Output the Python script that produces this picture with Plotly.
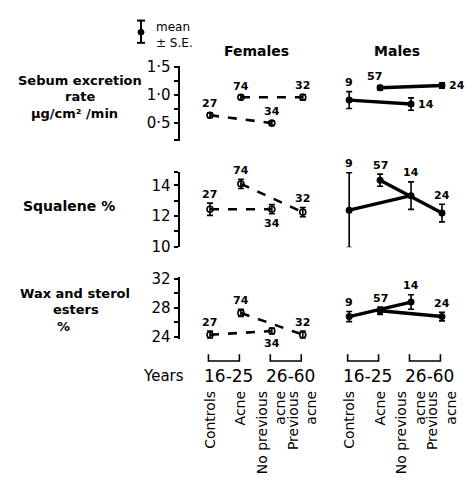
import plotly.graph_objects as go

# ---------------- data ----------------
categories = ["Controls", "Acne", "No previous<br>acne", "Previous<br>acne"]
female_x = [0, 1, 2, 3]
male_x = [4.5, 5.5, 6.5, 7.5]
female_n = [27, 74, 34, 32]
male_n = [9, 57, 14, 24]

sebum_f = [0.64, 0.96, 0.50, 0.96]
sebum_f_se = [0.04, 0.04, 0.04, 0.05]
sebum_m = [0.91, 1.13, 0.84, 1.17]
sebum_m_se = [0.15, 0.04, 0.11, 0.05]

squalene_f = [12.44, 14.1, 12.44, 12.25]
squalene_f_se = [0.4, 0.3, 0.3, 0.3]
squalene_m = [12.38, 14.34, 13.33, 12.19]
squalene_m_se = [2.45, 0.4, 0.9, 0.58]

wax_f = [24.3, 27.3, 24.8, 24.3]
wax_f_se = [0.5, 0.5, 0.4, 0.5]
wax_m = [26.8, 27.6, 28.8, 26.8]
wax_m_se = [0.7, 0.5, 1.0, 0.6]

year_groups = ["16-25", "26-60"]

# label placement for n-values
pos = {
    ("y", "f"): ["up", "up", "up", "up"],
    ("y", "m"): ["up", "upleft", "right", "right"],
    ("y2", "f"): ["up", "up", "down", "up"],
    ("y2", "m"): ["up", "up", "up", "up"],
    ("y3", "f"): ["up", "up", "down", "up"],
    ("y3", "m"): ["up", "up", "up", "up"],
}

W, H = 473, 488
FONT = "DejaVu Sans"


def px(x):
    return x / W


def py(y):
    return 1 - y / H


fig = go.Figure()

rows = [
    ("y", sebum_f, sebum_f_se, sebum_m, sebum_m_se),
    ("y2", squalene_f, squalene_f_se, squalene_m, squalene_m_se),
    ("y3", wax_f, wax_f_se, wax_m, wax_m_se),
]

annotations = []
for yref, vf, sf, vm, sm in rows:
    for sex, xs, v, se, ns in [("f", female_x, vf, sf, female_n), ("m", male_x, vm, sm, male_n)]:
        for i, j in [(0, 2), (1, 3)]:
            if sex == "f":
                line = dict(color="black", width=2.6, dash="dash")
                marker = dict(symbol="circle-open", size=6, color="black", line=dict(width=1.6))
            else:
                line = dict(color="black", width=3.4)
                marker = dict(symbol="circle", size=7, color="black")
            fig.add_trace(go.Scatter(
                x=[xs[i], xs[j]], y=[v[i], v[j]], xaxis="x", yaxis=yref,
                mode="lines+markers", line=line, marker=marker,
                error_y=dict(type="data", array=[se[i], se[j]], visible=True,
                             color="black", thickness=1.6, width=3),
                showlegend=False, hoverinfo="skip"))
        for k in range(4):
            p = pos[(yref, sex)][k]
            if p == "up":
                a = dict(x=xs[k], y=v[k] + se[k], yshift=9, xshift=0)
            elif p == "upleft":
                a = dict(x=xs[k], y=v[k] + se[k], yshift=9, xshift=-6)
            elif p == "down":
                a = dict(x=xs[k], y=v[k] - se[k], yshift=-10, xshift=0)
            else:
                a = dict(x=xs[k], y=v[k], yshift=0, xshift=15)
            a.update(xref="x", yref=yref, text="<b>%d</b>" % ns[k], showarrow=False,
                     xanchor="center", yanchor="middle",
                     font=dict(family=FONT, size=11, color="black"))
            annotations.append(a)

# axis geometry
axis_common = dict(showline=True, linecolor="black", linewidth=2.2, ticks="outside",
                   ticklen=4, tickwidth=2, tickcolor="black", showgrid=False, zeroline=False,
                   tickfont=dict(family=FONT, size=15, color="black"), anchor="x",
                   fixedrange=True)

fig.update_layout(
    width=W, height=H,
    margin=dict(l=0, r=0, t=0, b=0),
    paper_bgcolor="white", plot_bgcolor="white",
    xaxis=dict(domain=[0.38, 1.0], range=[-0.978, 8.503], showline=False, showgrid=False,
               zeroline=False, ticks="", anchor="free", position=py(392),
               tickvals=female_x + male_x, ticktext=categories + categories,
               tickangle=-90, tickfont=dict(family=FONT, size=14, color="black"),
               fixedrange=True),
    yaxis=dict(domain=[py(137), py(59.8)], range=[0.19, 1.52],
               tickvals=[0.2, 0.5, 0.75, 1.0, 1.25, 1.5],
               ticktext=["", "0·5", "", "1·0", "", "1·5"], **axis_common),
    yaxis2=dict(domain=[py(247.4), py(169.2)], range=[9.95, 14.9],
                tickvals=[10, 11, 12, 13, 14, 14.85],
                ticktext=["10", "", "12", "", "14", ""], **axis_common),
    yaxis3=dict(domain=[py(341.9), py(277.75)], range=[23.75, 32.3],
                tickvals=[24, 26, 28, 30, 32],
                ticktext=["24", "", "28", "", "32"], **axis_common),
)


# text labels
def txt(x, y, t, size=14, bold=False, xanchor="center", align="center"):
    annotations.append(dict(x=px(x), y=py(y), xref="paper", yref="paper",
                            text=("<b>%s</b>" % t) if bold else t,
                            showarrow=False, xanchor=xanchor, yanchor="middle", align=align,
                            font=dict(family=FONT, size=size, color="black")))


txt(256, 44, "Females", 14, True)
txt(397, 44, "Males", 14, True)
txt(154, 28, "mean<br>± S.E.", 12, xanchor="left", align="left")

txt(80, 75, "Sebum excretion", 13, True)
txt(80, 92, "rate", 13, True)
txt(74, 109, "µg/cm² /min", 13, True)
txt(69, 205, "Squalene %", 14, True)
txt(75, 295, "Wax and sterol", 13, True)
txt(76, 312, "esters", 13, True)
txt(63, 329, "%", 13, True)
txt(163, 380, "Years", 15)

# year brackets + labels
shapes = []
for x0, x1 in [(female_x[0], female_x[1]), (female_x[2], female_x[3]),
               (male_x[0], male_x[1]), (male_x[2], male_x[3])]:
    shapes.append(dict(type="path", xref="x", yref="paper",
                       path="M %f,%f L %f,%f L %f,%f L %f,%f" % (
                           x0 - 0.05, py(358), x0 - 0.05, py(365), x1 - 0.05, py(365), x1 - 0.05, py(358)),
                       line=dict(color="black", width=1.6)))
    lab = year_groups[0] if x0 in (female_x[0], male_x[0]) else year_groups[1]
    annotations.append(dict(x=(x0 + x1) / 2 + 0.1, y=py(380), xref="x", yref="paper", text=lab,
                            showarrow=False, xanchor="center", yanchor="middle",
                            font=dict(family=FONT, size=17, color="black")))

# legend icon (mean ± S.E.)
lx = px(141)
shapes += [
    dict(type="line", xref="paper", yref="paper", x0=lx, x1=lx, y0=py(13), y1=py(36),
         line=dict(color="black", width=2)),
    dict(type="line", xref="paper", yref="paper", x0=px(137), x1=px(145), y0=py(13), y1=py(13),
         line=dict(color="black", width=2)),
    dict(type="line", xref="paper", yref="paper", x0=px(137), x1=px(145), y0=py(36), y1=py(36),
         line=dict(color="black", width=2)),
    dict(type="circle", xref="paper", yref="paper", x0=px(138), x1=px(144), y0=py(28), y1=py(22),
         fillcolor="black", line=dict(color="black", width=1)),
]

fig.update_layout(annotations=annotations, shapes=shapes)
fig.write_html("out.html", config={"displayModeBar": False},
               post_script="document.body.style.margin='0';")
